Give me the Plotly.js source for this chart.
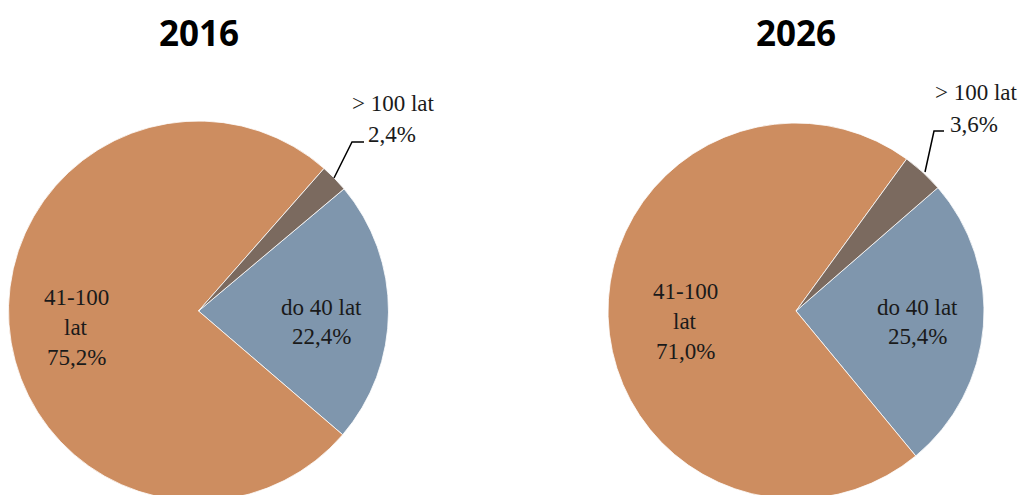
<!DOCTYPE html>
<html>
<head>
<meta charset="utf-8">
<script src="https://cdn.plot.ly/plotly-3.0.1.min.js"></script>
<style>html,body{margin:0;padding:0;overflow:hidden;background:#fff;}</style>
</head>
<body>
<div id="chart"></div>
<script>
const years = ["2016", "2026"];
const categories = ["do 40 lat", "41-100 lat", "> 100 lat"];
const values2016 = [22.4, 75.2, 2.4];
const values2026 = [25.4, 71.0, 3.6];
const colors = ["#7F96AD", "#CD8D60", "#7B6A5F"];

const W = 1027, H = 505;
const px = x => x / W;
const py = y => (H - y) / H;
const fmt = v => v.toFixed(1).replace(".", ",") + "%";

function pieTrace(vals, cx, cy, r, rot) {
  return {
    type: "pie",
    values: vals,
    labels: categories,
    sort: false,
    direction: "clockwise",
    rotation: rot,
    textinfo: "none",
    marker: {colors: colors, line: {color: "#ffffff", width: 0.8}},
    domain: {x: [px(cx - r), px(cx + r)], y: [py(cy + r), py(cy - r)]},
    showlegend: false
  };
}

const data = [
  pieTrace(values2016, 198.5, 311, 190, 50),
  pieTrace(values2026, 796, 311, 188, 49)
];

const ann = (x, y, text, anchor) => ({
  xref: "paper", yref: "paper", x: px(x), y: py(y), text: text, showarrow: false,
  xanchor: anchor || "center", yanchor: "middle",
  font: {family: "Liberation Serif", size: 23, color: "#1a1a1a"}
});
const titleAnn = (x, text) => ({
  xref: "paper", yref: "paper", x: px(x), y: py(33), text: "<b>" + text + "</b>", showarrow: false,
  xanchor: "center", yanchor: "middle", font: {family: "Open Sans", size: 35, color: "#000"}
});

const sets = [values2016, values2026];
const annotations = [
  titleAnn(199, years[0]), titleAnn(796, years[1]),
  ann(76, 297, "41-100"), ann(76, 327, "lat"), ann(76, 357, fmt(sets[0][1])),
  ann(321, 307, categories[0]), ann(321, 337, fmt(sets[0][0])),
  ann(393, 104, categories[2]), ann(366, 134, fmt(sets[0][2]), "left"),
  ann(685, 291, "41-100"), ann(685, 321, "lat"), ann(685, 351, fmt(sets[1][1])),
  ann(917, 307, categories[0]), ann(917, 337, fmt(sets[1][0])),
  ann(976, 92, categories[2]), ann(948, 124, fmt(sets[1][2]), "left")
];

const leader = (pts) => ({
  type: "path", xref: "paper", yref: "paper",
  path: "M " + pts.map(p => px(p[0]) + "," + py(p[1])).join(" L "),
  line: {color: "#000", width: 1.5}
});

const layout = {
  width: W, height: H,
  margin: {l: 0, r: 0, t: 0, b: 0},
  font: {family: "Liberation Serif", size: 23, color: "#1a1a1a"},
  annotations: annotations,
  shapes: [
    leader([[334, 178], [352, 142], [364, 142]]),
    leader([[925, 172], [934, 131], [944, 131]])
  ]
};

Plotly.newPlot("chart", data, layout, {staticPlot: true});
</script>
</body>
</html>
